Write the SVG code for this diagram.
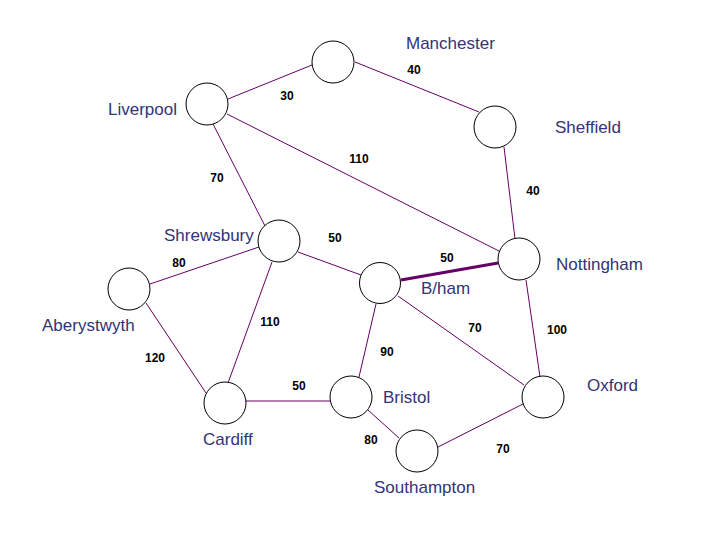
<svg xmlns="http://www.w3.org/2000/svg" width="720" height="540" viewBox="0 0 720 540">
<style>
.e{stroke:#660066;stroke-width:1;fill:none}
.thick{stroke:#660066;stroke-width:3;fill:none}
.n{fill:#ffffff;stroke:#000000;stroke-width:1}
.t{font-family:"Liberation Sans",Arial,sans-serif;font-size:17px;fill:#333377}
.w{font-family:"Liberation Sans",Arial,sans-serif;font-size:12px;font-weight:bold;fill:#000000;text-anchor:middle}
</style>
<rect width="720" height="540" fill="#ffffff"/>
<g id="connectors">
<line class="e" x1="228" y1="99" x2="312" y2="65"/>
<line class="e" x1="355" y1="62" x2="479" y2="112"/>
<line class="e" x1="227" y1="114" x2="499" y2="251"/>
<line class="e" x1="213" y1="124" x2="265" y2="226"/>
<line class="e" x1="504" y1="147" x2="515" y2="239"/>
<line class="e" x1="259" y1="247" x2="150" y2="284"/>
<line class="e" x1="298" y1="252" x2="361" y2="275"/>
<line class="e" x1="272" y1="262" x2="228" y2="383"/>
<line class="e" x1="146" y1="303" x2="206" y2="393"/>
<line class="e" x1="246" y1="401" x2="330" y2="401"/>
<line class="thick" x1="401" y1="280" x2="498" y2="263"/>
<line class="e" x1="376" y1="304" x2="359" y2="377"/>
<line class="e" x1="398" y1="296" x2="524" y2="385"/>
<line class="e" x1="526" y1="280" x2="540" y2="377"/>
<line class="e" x1="368" y1="410" x2="399" y2="438"/>
<line class="e" x1="438" y1="447" x2="523" y2="404"/>
<text class="w" x="287" y="100">30</text>
<text class="w" x="414" y="74">40</text>
<text class="w" x="359" y="163">110</text>
<text class="w" x="217" y="182">70</text>
<text class="w" x="533" y="195">40</text>
<text class="w" x="335" y="242">50</text>
<text class="w" x="447" y="262">50</text>
<text class="w" x="179" y="267">80</text>
<text class="w" x="270" y="326">110</text>
<text class="w" x="475" y="332">70</text>
<text class="w" x="557" y="334">100</text>
<text class="w" x="387" y="356">90</text>
<text class="w" x="155" y="362">120</text>
<text class="w" x="299" y="390">50</text>
<text class="w" x="371" y="444">80</text>
<text class="w" x="503" y="453">70</text>
</g>
<g id="manchester"><circle class="n" cx="333" cy="62" r="21"/><text class="t" x="406" y="49">Manchester</text></g>
<g id="liverpool"><circle class="n" cx="207" cy="104" r="21"/><text class="t" x="108" y="115">Liverpool</text></g>
<g id="sheffield"><circle class="n" cx="495" cy="127" r="21"/><text class="t" x="555" y="133">Sheffield</text></g>
<g id="shrewsbury"><circle class="n" cx="279" cy="241" r="21"/><text class="t" x="164" y="241">Shrewsbury</text></g>
<g id="nottingham"><circle class="n" cx="519" cy="259" r="21"/><text class="t" x="556" y="270">Nottingham</text></g>
<g id="bham"><circle class="n" cx="380" cy="283" r="20.5"/><text class="t" x="421" y="294">B/ham</text></g>
<g id="aberystwyth"><circle class="n" cx="129" cy="289" r="21"/><text class="t" x="42" y="331">Aberystwyth</text></g>
<g id="cardiff"><circle class="n" cx="225" cy="403" r="21"/><text class="t" x="203" y="445">Cardiff</text></g>
<g id="bristol"><circle class="n" cx="351" cy="397" r="21"/><text class="t" x="383" y="403">Bristol</text></g>
<g id="oxford"><circle class="n" cx="543" cy="397" r="21"/><text class="t" x="587" y="391">Oxford</text></g>
<g id="southampton"><circle class="n" cx="417" cy="451" r="21"/><text class="t" x="374" y="493">Southampton</text></g>
</svg>
